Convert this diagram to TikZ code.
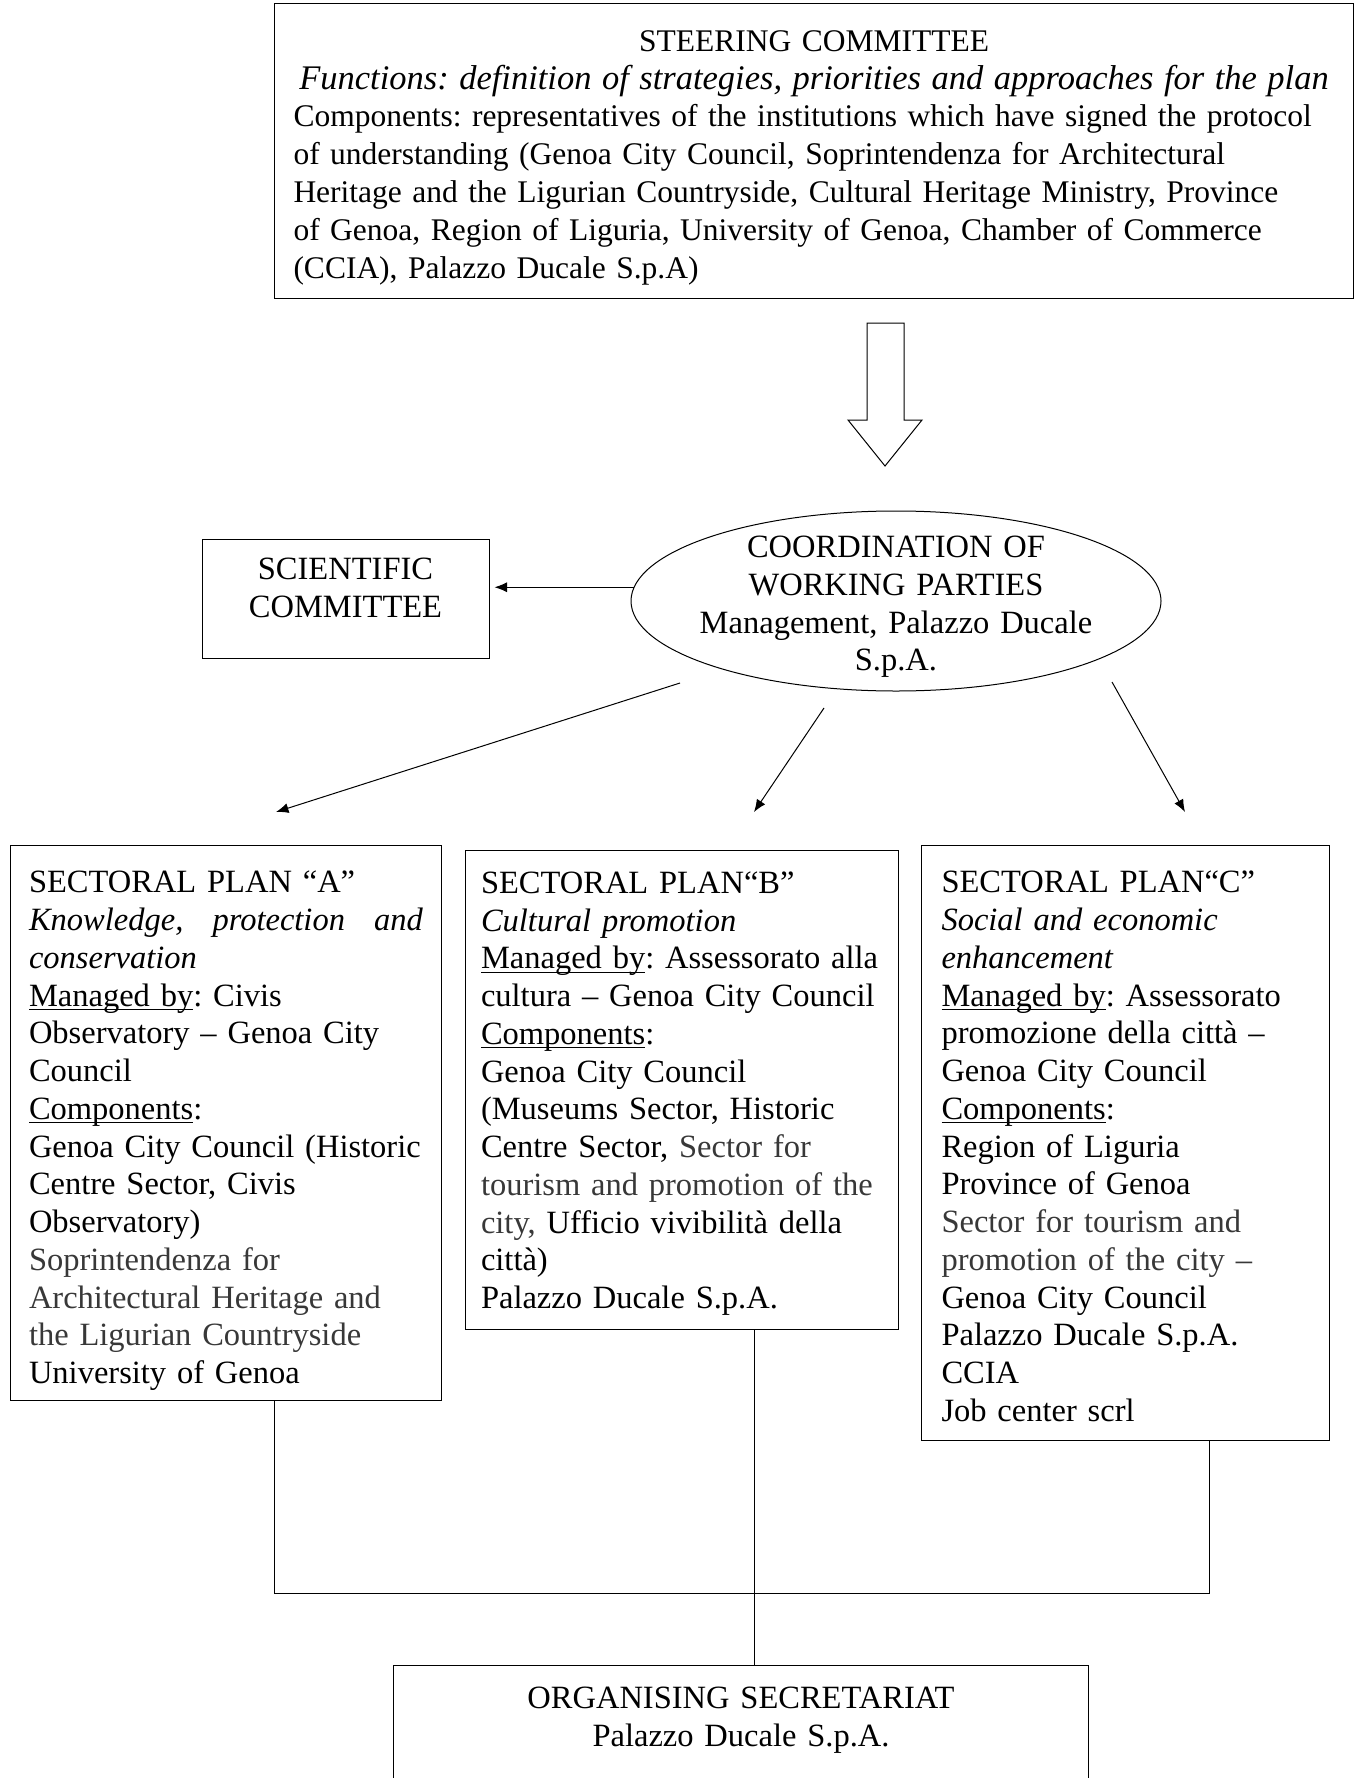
\documentclass[tikz,border=0pt]{standalone}
\usepackage{fontspec}
\setmainfont{Liberation Serif}
\usetikzlibrary{arrows.meta,shapes.geometric}
\definecolor{softgrey}{gray}{0.22}
\newcommand{\uword}[1]{\underline{\smash{#1}}}
\frenchspacing
\tikzset{line width=0.6pt,
every node/.style={font=\fontsize{13pt}{15.1pt}\selectfont},
box/.style={draw, anchor=north west, align=left},
plan/.style={box, inner xsep=7.6pt, inner ysep=4pt},
arr/.style={-{Latex[length=5pt,width=4pt]}}}

\begin{document}
\begin{tikzpicture}[x=0.4pt,y=-0.4pt]
\useasboundingbox (0,0) rectangle (1355,1778);
\node[box, text width=416.4pt, inner xsep=7.6pt, inner ysep=4pt,
  font=\fontsize{12.6pt}{15.1pt}\selectfont] (steer) at (274,3)
{\rule{0pt}{15.2pt}\hfill STEERING COMMITTEE\hfill\null\\
\hfill{\fontsize{13.8pt}{15.1pt}\selectfont\textit{Functions: definition of strategies, priorities and approaches for the plan}}\hfill\null\\
Components: representatives of the institutions which have signed the protocol\\
of understanding (Genoa City Council, Soprintendenza for Architectural\\
Heritage and the Ligurian Countryside, Cultural Heritage Ministry, Province\\
of Genoa, Region of Liguria, University of Genoa, Chamber of Commerce\\
(CCIA), Palazzo Ducale S.p.A)\rule[-4.1pt]{0pt}{0pt}};
% hollow arrow
\draw (867,323) -- (904,323) -- (904,420) -- (922,420) -- (885,466)
  -- (848,420) -- (867,420) -- cycle;
\node[ellipse, draw, minimum width=212pt, minimum height=72pt, inner xsep=-30pt,
  inner ysep=-20pt, text width=170pt, align=center] (coord) at (896,601)
{\rule{0pt}{13.4pt}COORDINATION OF\\ WORKING PARTIES\\ Management, Palazzo Ducale\\ S.p.A.};
\node[draw, align=center, minimum width=114.8pt, minimum height=47.6pt] (sci) at (345.5,598.5)
{SCIENTIFIC\\ COMMITTEE\rule[-8.6pt]{0pt}{0pt}};
\node[plan, text width=157.6pt, inner xsep=7.4pt] (A) at (10,845)
{\rule{0pt}{14.9pt}SECTORAL PLAN “A”\\
\textit{Knowledge,\hfill protection\hfill and}\\
\textit{conservation}\\
\uword{Managed by}: Civis\\
Observatory – Genoa City\\
Council\\
\uword{Components}:\\
Genoa City Council (Historic\\
Centre Sector, Civis\\
Observatory)\\
{\color{softgrey}Soprintendenza for}\\
{\color{softgrey}Architectural Heritage and}\\
{\color{softgrey}the Ligurian Countryside}\\
University of Genoa};
\node[plan, text width=160.8pt, inner xsep=6.2pt, inner ysep=5.5pt] (B) at (465,850)
{\rule{0pt}{11.6pt}SECTORAL PLAN“B”\\
\textit{Cultural promotion}\\
\mbox{\uword{Managed by}: Assessorato alla}\\
cultura – Genoa City Council\\
\uword{Components}:\\
Genoa City Council\\
(Museums Sector, Historic\\
Centre Sector, {\color{softgrey}Sector for}\\
{\color{softgrey}tourism and promotion of the}\\
{\color{softgrey}city,} Ufficio vivibilità della\\
città)\\
Palazzo Ducale S.p.A.};
\node[plan, text width=147.2pt, inner xsep=8pt] (C) at (921,845)
{\rule{0pt}{14.9pt}SECTORAL PLAN“C”\\
\textit{Social and economic}\\
\textit{enhancement}\\
\uword{Managed by}: Assessorato\\
promozione della città –\\
Genoa City Council\\
\uword{Components}:\\
Region of Liguria\\
Province of Genoa\\
{\color{softgrey}Sector for tourism and}\\
{\color{softgrey}promotion of the city –}\\
Genoa City Council\\
Palazzo Ducale S.p.A.\\
CCIA\\
Job center scrl\rule[-3.5pt]{0pt}{0pt}};
\node[draw, anchor=north, text width=262pt, align=center, inner xsep=8pt, inner ysep=8.7pt,
  text depth=60pt] (sec) at (741,1665)
{ORGANISING SECRETARIAT\\ Palazzo Ducale S.p.A.};
% free ends of the arrows
\coordinate (fa) at (680,683);
\coordinate (ta) at (276,812);
\coordinate (fb) at (824,708);
\coordinate (tb) at (754,812);
\coordinate (fc) at (1112,682);
\coordinate (tc) at (1185,812);
\coordinate (ja) at (274,1593);
\coordinate (join) at (754,1593);
\coordinate (jc) at (1209,1593);
\draw[arr, shorten >=2pt] (coord.177) -- (coord.177 -| sci.east);
\draw[arr] (fa) -- (ta);
\draw[arr] (fb) -- (tb);
\draw[arr] (fc) -- (tc);
\draw (A.south -| ja) -- (ja) -- (jc) -- (C.south -| jc);
\draw (B.south -| join) -- (sec.north -| join);
\end{tikzpicture}
\end{document}
